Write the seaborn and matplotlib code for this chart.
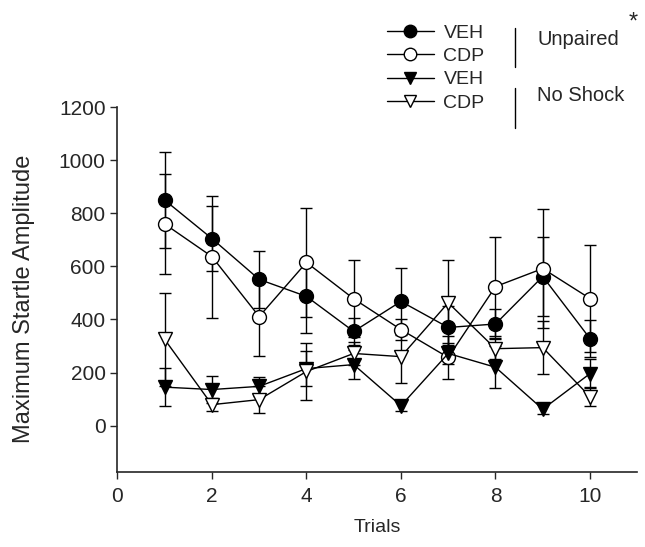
import numpy as np
import pandas as pd
import matplotlib
matplotlib.use('Agg')
import matplotlib.pyplot as plt
import seaborn as sns
from matplotlib.lines import Line2D

# Values
trials = [1, 2, 3, 4, 5, 6, 7, 8, 9, 10]

veh_unpaired = [850, 705, 551, 487, 355, 468, 370, 383, 562, 328]
veh_unpaired_err = [180, 122, 106, 137, 50, 125, 80, 55, 147, 70]

cdp_unpaired = [760, 637, 411, 615, 478, 362, 257, 524, 592, 479]
cdp_unpaired_err = [190, 230, 150, 207, 145, 40, 80, 185, 225, 200]

veh_noshock = [145, 136, 148, 215, 230, 75, 272, 220, 62, 196]
veh_noshock_err = [72, 50, 37, 65, 55, 20, 40, 80, 20, 55]

cdp_noshock = [325, 79, 98, 204, 272, 260, 463, 290, 294, 109]
cdp_noshock_err = [175, 25, 50, 106, 45, 100, 160, 40, 100, 35]

series_names = ['VEH', 'CDP', 'VEH', 'CDP']
y_ticks = [0, 200, 400, 600, 800, 1000, 1200]
x_ticks = [0, 2, 4, 6, 8, 10]

sns.set_style('ticks')
plt.rcParams['font.family'] = ['Liberation Sans', 'DejaVu Sans']

fig = plt.figure(figsize=(6.45, 5.47), dpi=100)
ax = fig.add_axes([0.182, 0.137, 0.806, 0.667])

series = [
    (veh_unpaired, veh_unpaired_err, 'o', 'black'),
    (cdp_unpaired, cdp_unpaired_err, 'o', 'white'),
    (veh_noshock, veh_noshock_err, 'v', 'black'),
    (cdp_noshock, cdp_noshock_err, 'v', 'white'),
]

handles = []
for (vals, errs, mk, fc), name in zip(series, series_names):
    ax.errorbar(trials, vals, yerr=errs, fmt='none', ecolor='black',
                elinewidth=1.0, capsize=4, capthick=1.0, zorder=2)
    sns.lineplot(x=trials, y=vals, ax=ax, color='black', linewidth=1.0,
                 marker=mk, markersize=10, markerfacecolor=fc,
                 markeredgecolor='black', markeredgewidth=1.0, zorder=3)
    handles.append(Line2D([], [], color='black', linewidth=1.0, marker=mk,
                          markersize=9, markerfacecolor=fc,
                          markeredgecolor='black', label=name))

ax.set_xlim(0, 11)
ax.set_ylim(-175, 1200)
ax.set_xticks(x_ticks)
ax.set_yticks(y_ticks)
ax.tick_params(labelsize=15, direction='out', length=5, width=1)
ax.tick_params(axis='x', pad=6)
ax.set_xlabel('Trials', fontsize=14)
ax.set_ylabel('Maximum Startle Amplitude', fontsize=17)
ax.yaxis.set_label_coords(-0.158, 0.475)
ax.xaxis.set_label_coords(0.5, -0.13)
for s in ['left', 'bottom']:
    ax.spines[s].set_linewidth(1.2)
sns.despine(ax=ax)

fig.legend(handles=handles, loc='upper left', bbox_to_anchor=(0.585, 0.974),
           frameon=False, fontsize=14, handlelength=2.4, labelspacing=0.3,
           handletextpad=0.5, borderpad=0)

fig.text(0.833, 0.927, 'Unpaired', fontsize=14.5, va='center', ha='left')
fig.text(0.833, 0.826, 'No Shock', fontsize=14.5, va='center', ha='left')
fig.text(0.975, 0.958, '*', fontsize=17, va='center', ha='left')
fig.add_artist(Line2D([0.798, 0.798], [0.948, 0.878], color='black', linewidth=1.0))
fig.add_artist(Line2D([0.798, 0.798], [0.840, 0.766], color='black', linewidth=1.0))

fig.savefig('out.png', dpi=100)
